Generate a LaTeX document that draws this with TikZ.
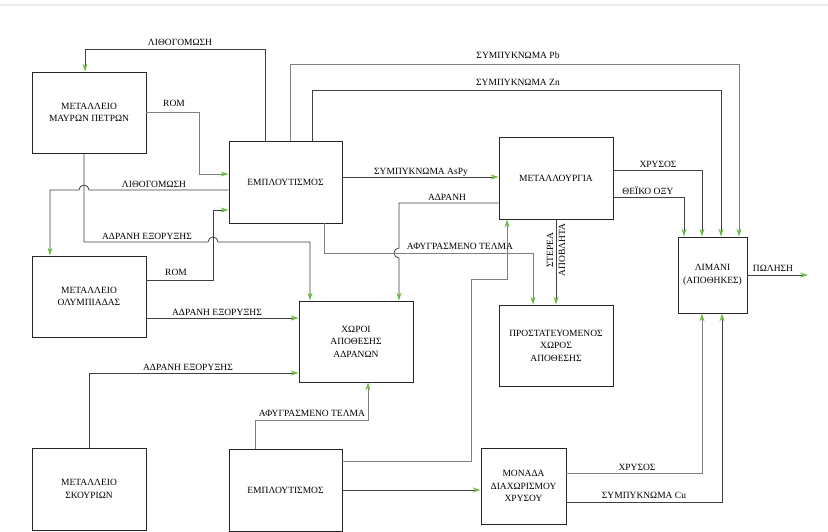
\documentclass[tikz,border=0pt]{standalone}
\usepackage{fontspec}
\setmainfont{Liberation Serif}
\usetikzlibrary{arrows.meta}
\definecolor{agreen}{RGB}{112,184,64}
\begin{document}
\begin{tikzpicture}[x=1pt,y=-1pt,
  box/.style={draw=black!85, line width=0.9pt, inner sep=0pt, align=center,
              font=\fontsize{9.5}{12.5}\selectfont},
  flow/.style={draw=black!75, line width=0.8pt},
  flowl/.style={draw=black!50, line width=0.8pt},
  arr/.style={-{Stealth[length=8pt,width=5pt,color=agreen]}},
  lbl/.style={inner sep=1pt, font=\fontsize{9.5}{12}\selectfont}]
\useasboundingbox (0,0) rectangle (828,532);
\fill[white] (0,0) rectangle (828,532);
\draw[black!8, line width=2pt] (0,5) -- (828,5);

% boxes
\node[box, minimum width=114pt, minimum height=81pt] (m1) at (89,112.5) {ΜΕΤΑΛΛΕΙΟ\\ΜΑΥΡΩΝ ΠΕΤΡΩΝ};
\node[box, minimum width=113pt, minimum height=82pt] (e1) at (285.5,182) {ΕΜΠΛΟΥΤΙΣΜΟΣ};
\node[box, minimum width=114pt, minimum height=82pt] (met) at (556,178) {ΜΕΤΑΛΛΟΥΡΓΙΑ};
\node[box, minimum width=69pt, minimum height=76pt] (lim) at (712.5,275) {ΛΙΜΑΝΙ\\(ΑΠΟΘΗΚΕΣ)};
\node[box, minimum width=114pt, minimum height=81pt] (m2) at (89,296.5) {ΜΕΤΑΛΛΕΙΟ\\ΟΛΥΜΠΙΑΔΑΣ};
\node[box, minimum width=114pt, minimum height=81pt] (xa) at (356,341.5) {ΧΩΡΟΙ\\ΑΠΟΘΕΣΗΣ\\ΑΔΡΑΝΩΝ};
\node[box, minimum width=114pt, minimum height=81pt] (pr) at (556,345.5) {ΠΡΟΣΤΑΤΕΥΟΜΕΝΟΣ\\ΧΩΡΟΣ\\ΑΠΟΘΕΣΗΣ};
\node[box, minimum width=114pt, minimum height=82pt] (m3) at (89,489) {ΜΕΤΑΛΛΕΙΟ\\ΣΚΟΥΡΙΩΝ};
\node[box, minimum width=113pt, minimum height=82pt] (e2) at (285.5,490) {ΕΜΠΛΟΥΤΙΣΜΟΣ};
\node[box, minimum width=85pt, minimum height=76pt] (mon) at (523.5,486) {ΜΟΝΑΔΑ\\ΔΙΑΧΩΡΙΣΜΟΥ\\ΧΡΥΣΟΥ};

% connectors
\draw[flow,arr] (265,0 |- e1.north) |- (85,49) -- (85,0 |- m1.north);
\node[lbl] (l1) at (180,42) {ΛΙΘΟΓΟΜΩΣΗ};

\draw[flowl,arr] (m1.east |- 0,112) -| (199,174) -- (e1.west |- 0,174);
\node[lbl] (l2) at (174,103) {ROM};

\draw[flow,arr] (e1.west |- 0,190) -- (89,190) arc[start angle=0,end angle=180,radius=5pt] -- (50,190) -- (50,0 |- m2.north);
\node[lbl] (l3) at (154,184) {ΛΙΘΟΓΟΜΩΣΗ};

\draw[flow,arr] (84,0 |- m1.south) |- (208,242) arc[start angle=180,end angle=0,radius=5pt] -| (310,0 |- xa.north);
\node[lbl] (l4) at (147,236) {ΑΔΡΑΝΗ ΕΞΟΡΥΞΗΣ};

\draw[flow,arr] (m2.east |- 0,280) -| (213,210) -- (e1.west |- 0,210);
\node[lbl] (l5) at (176,272) {ROM};

\draw[flow,arr] (m2.east |- 0,318) -- (xa.west |- 0,318);
\node[lbl] (l6) at (217,312) {ΑΔΡΑΝΗ ΕΞΟΡΥΞΗΣ};

\draw[flow,arr] (89,0 |- m3.north) |- (xa.west |- 0,373);
\node[lbl] (l7) at (188,367) {ΑΔΡΑΝΗ ΕΞΟΡΥΞΗΣ};

\draw[flowl,arr] (255,0 |- e2.north) |- (368,420) -- (368,0 |- xa.south);
\node[lbl] (l8) at (312,413) {ΑΦΥΓΡΑΣΜΕΝΟ ΤΕΛΜΑ};

\draw[flowl,arr] (e2.east |- 0,461) -| (471,279) -| (507,0 |- met.south);

\draw[flow,arr] (e2.east |- 0,490) -- (mon.west |- 0,490);

\draw[flow,arr] (e1.east |- 0,177) -- (met.west |- 0,177);
\node[lbl] (l9) at (421,172) {ΣΥΜΠΥΚΝΩΜΑ AsPy};

\draw[flowl,arr] (290,0 |- e1.north) |- (739,64) -- (739,0 |- lim.north);
\node[lbl] (l10) at (518,55) {ΣΥΜΠΥΚΝΩΜΑ Pb};

\draw[flow,arr] (312,0 |- e1.north) |- (721,90) -- (721,0 |- lim.north);
\node[lbl] (l11) at (518,82) {ΣΥΜΠΥΚΝΩΜΑ Zn};

\draw[flow,arr] (met.east |- 0,170) -| (702,0 |- lim.north);
\node[lbl] (l12) at (658,164) {ΧΡΥΣΟΣ};

\draw[flow,arr] (met.east |- 0,197) -| (684,0 |- lim.north);
\node[lbl] (l13) at (648,191) {ΘΕΪΚΟ ΟΞΥ};

\draw[flow,arr] (met.west |- 0,203) -| (399,248) arc[start angle=90,end angle=270,radius=5pt] -- (399,0 |- xa.north);
\node[lbl] (l14) at (447,197) {ΑΔΡΑΝΗ};

\draw[flowl,arr] (324,0 |- e1.south) |- (533,253) -- (533,0 |- pr.north);
\node[lbl] (l15) at (460,246) {ΑΦΥΓΡΑΣΜΕΝΟ ΤΕΛΜΑ};

\draw[flow,arr] (556,0 |- met.south) -- (556,0 |- pr.north);
\node[lbl, rotate=90, align=center] (l16) at (556,250) {ΣΤΕΡΕΑ\\ΑΠΟΒΛΗΤΑ};

\coordinate (sale) at (808,275);
\draw[flow,arr] (lim.east |- 0,275) -- (sale);
\node[lbl] (l17) at (773,268) {ΠΩΛΗΣΗ};

\draw[flowl,arr] (mon.east |- 0,473) -| (702,0 |- lim.south);
\node[lbl] (l18) at (637,467) {ΧΡΥΣΟΣ};

\draw[flow,arr] (mon.east |- 0,502) -| (722,0 |- lim.south);
\node[lbl] (l19) at (644,495) {ΣΥΜΠΥΚΝΩΜΑ Cu};
\end{tikzpicture}
\end{document}
